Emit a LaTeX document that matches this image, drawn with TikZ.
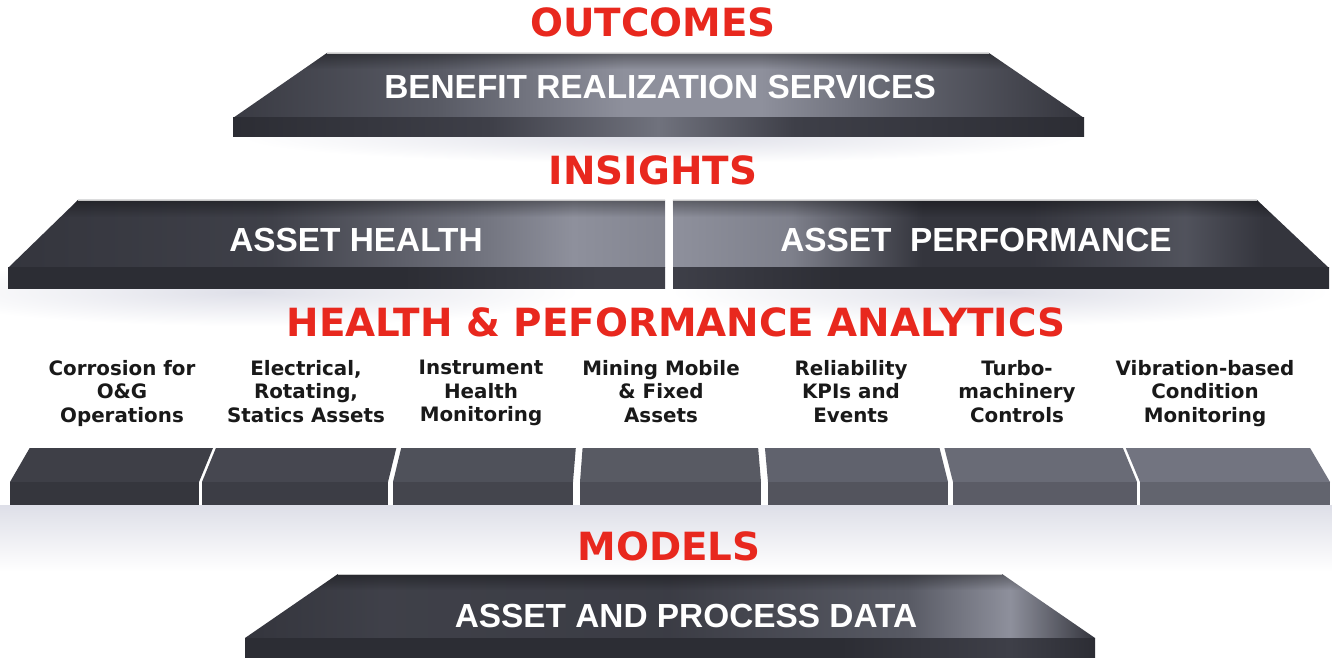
\documentclass[tikz,border=0pt]{standalone}
\usepackage{fontspec}
\setmainfont{Liberation Sans}
\newfontfamily\headfont{DejaVu Sans}
\usetikzlibrary{positioning, fadings}

\definecolor{titlered}{RGB}{232,40,30}
\definecolor{slabdark}{RGB}{52,53,61}
\definecolor{slabmid}{RGB}{88,90,100}
\definecolor{slablight}{RGB}{142,144,156}
\definecolor{frontdark}{RGB}{44,45,52}
\definecolor{frontmid}{RGB}{62,63,72}
\definecolor{frontlight}{RGB}{112,114,125}
\definecolor{blockleft}{RGB}{62,63,71}
\definecolor{blockright}{RGB}{114,116,128}
\definecolor{glow}{RGB}{222,223,232}

% face shadings, the path spans 25bp..75bp
\pgfdeclarehorizontalshading{outcomeface}{100bp}{color(0bp)=(slabdark); color(25bp)=(slabdark!85!slabmid);
  color(37bp)=(slabmid); color(48bp)=(slablight); color(56bp)=(slablight); color(64bp)=(slabmid!80!slablight);
  color(75bp)=(slabdark); color(100bp)=(slabdark)}
\pgfdeclarehorizontalshading{outcomefront}{100bp}{color(0bp)=(frontdark); color(25bp)=(frontdark);
  color(40bp)=(frontmid); color(50bp)=(frontlight); color(58bp)=(frontmid); color(75bp)=(frontdark); color(100bp)=(frontdark)}
\pgfdeclarehorizontalshading{healthface}{100bp}{color(0bp)=(slabdark); color(25bp)=(slabdark);
  color(45bp)=(slabdark!70!slabmid); color(60bp)=(slabmid!60!slablight); color(68bp)=(slablight); color(75bp)=(slablight!80!slabmid); color(100bp)=(slabmid)}
\pgfdeclarehorizontalshading{healthfront}{100bp}{color(0bp)=(frontdark); color(25bp)=(frontdark);
  color(55bp)=(frontdark); color(70bp)=(frontmid); color(75bp)=(frontmid); color(100bp)=(frontmid)}
\pgfdeclarehorizontalshading{perfface}{100bp}{color(0bp)=(slablight); color(25bp)=(slablight);
  color(34bp)=(slablight!70!slabmid); color(44bp)=(slabdark); color(52bp)=(slabdark); color(64bp)=(slabmid!80!slabdark);
  color(70bp)=(slabdark); color(75bp)=(slabdark); color(100bp)=(slabdark)}
\pgfdeclarehorizontalshading{perffront}{100bp}{color(0bp)=(frontmid); color(25bp)=(frontmid);
  color(38bp)=(frontdark); color(75bp)=(frontdark); color(100bp)=(frontdark)}
\pgfdeclarehorizontalshading{modelface}{100bp}{color(0bp)=(slabdark); color(25bp)=(slabdark);
  color(33bp)=(slabdark!70!slabmid); color(50bp)=(slabdark!80!slabmid); color(64bp)=(slabmid);
  color(70bp)=(slablight); color(75bp)=(slabdark); color(100bp)=(slabdark)}
\pgfdeclarehorizontalshading{modelfront}{100bp}{color(0bp)=(frontdark); color(25bp)=(frontdark);
  color(60bp)=(frontdark); color(70bp)=(frontmid); color(75bp)=(frontdark); color(100bp)=(frontdark)}

\tikzset{%
  layer title/.style={font=\headfont\fontsize{22.1}{26}\selectfont\bfseries,
    text=titlered, inner sep=0pt, anchor=base},
  slab text/.style={font=\fontsize{19}{23}\selectfont\bfseries,
    text=white, inner sep=0pt, anchor=base},
  module label/.style={font=\headfont\fontsize{11.3}{13.4}\selectfont\bfseries,
    text=black!90, align=center, inner sep=0pt, anchor=north},
  top shade/.style={fill=black, path fading=south, fill opacity=0.35},
  edge line/.style={draw=gray!45, line width=0.5pt},
  soft glow/.style={inner color=glow, outer color=white}
}

\begin{document}
\begin{tikzpicture}[x=0.02cm, y=-0.02cm]
\useasboundingbox (0,0) rectangle (1332,658);
\fill[white] (0,0) rectangle (1332,658);

% soft glows under the layers
\shade[soft glow] (660,137) ellipse [x radius=420, y radius=26];
\shade[soft glow] (250,292) ellipse [x radius=330, y radius=34];
\shade[soft glow] (1000,292) ellipse [x radius=330, y radius=34];
\shade[top color=glow, bottom color=white] (0,505) rectangle (1332,572);

% outcomes slab
\shade[shading=outcomeface] (327,53) -- (989,53) -- (1084,118) -- (233,118) -- cycle;
\fill[top shade] (327,53) -- (989,53) -- (1012,69) -- (304,69) -- cycle;
\shade[shading=outcomefront] (233,118) rectangle (1084,137);
\draw[edge line] (327,53) -- (989,53);

% insights slabs
\shade[shading=healthface] (78,200) -- (665,200) -- (665,268) -- (8,268) -- cycle;
\fill[top shade] (78,200) -- (665,200) -- (665,217) -- (62,217) -- cycle;
\shade[shading=healthfront] (8,268) rectangle (665,289);
\shade[shading=perfface] (673,200) -- (1257,200) -- (1329,268) -- (673,268) -- cycle;
\fill[top shade] (673,200) -- (1257,200) -- (1275,217) -- (673,217) -- cycle;
\shade[shading=perffront] (673,268) rectangle (1329,289);
\draw[edge line] (78,200) -- (665,200) (673,200) -- (1257,200);

% analytics blocks
\foreach \l/\r [count=\i] in {10/199, 202/388, 393/573, 580/761, 768/948, 953/1137, 1140/1330}{
  \pgfmathsetmacro\tl{\l+(666-\l)*0.03}
  \pgfmathsetmacro\tr{\r+(666-\r)*0.03}
  \pgfmathtruncatemacro\p{(\i-1)*100/6}
  \fill[blockright!\p!blockleft] (\tl,448) -- (\tr,448) -- (\r,482) -- (\l,482) -- cycle;
  \fill[blockright!\p!blockleft!86!black] (\l,482) rectangle (\r,505);
}

% models slab
\shade[shading=modelface] (338,574) -- (1002,574) -- (1095,638) -- (245,638) -- cycle;
\fill[top shade] (338,574) -- (1002,574) -- (1025,590) -- (315,590) -- cycle;
\shade[shading=modelfront] (245,638) rectangle (1095,660);
\draw[edge line] (338,574) -- (1002,574);

% titles
\node[layer title] (outcomes) at (653,37) {OUTCOMES};
\node[layer title] (insights) at (653,185) {INSIGHTS};
\node[layer title] (analytics) at (676,337) {HEALTH \& PEFORMANCE ANALYTICS};
\node[layer title] (models) at (669,560) {MODELS};

% slab texts
\node[slab text] (benefit) at (660,99) {BENEFIT REALIZATION SERVICES};
\node[slab text] (health) at (356,252) {ASSET HEALTH};
\node[slab text] (perf) at (976,252) {ASSET\ \ PERFORMANCE};
\node[slab text] (data) at (686,627) {ASSET AND PROCESS DATA};

% module labels
\node[module label] (corrosion) at (122,360) {Corrosion for\\O\&G\\Operations};
\node[module label] (electrical) at (306,360) {Electrical,\\Rotating,\\Statics Assets};
\node[module label] (instrument) at (481,360) {Instrument\\Health\\Monitoring};
\node[module label] (mining) at (661,360) {Mining Mobile\\\& Fixed\\Assets};
\node[module label] (reliability) at (851,360) {Reliability\\KPIs and\\Events};
\node[module label] (turbo) at (1017,360) {Turbo-\\machinery\\Controls};
\node[module label] (vibration) at (1205,360) {Vibration-based\\Condition\\Monitoring};
\end{tikzpicture}
\end{document}
